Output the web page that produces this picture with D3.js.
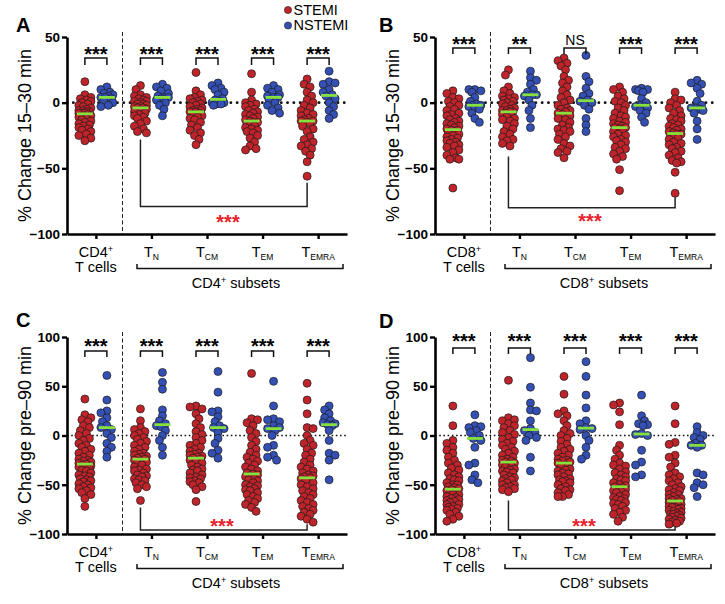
<!DOCTYPE html>
<html><head><meta charset="utf-8">
<script src="https://cdn.jsdelivr.net/npm/d3@7"></script>
<style>
body{margin:0;background:#fff}
svg{display:block}
text{font-family:"Liberation Sans",Arial,Helvetica,sans-serif}
</style>
</head><body>
<svg id="chart" width="725" height="604"></svg>
<script>
// ---------- DATA ----------
const categories = ["all", "TN", "TCM", "TEM", "TEMRA"];
const seriesNames = ["STEMI", "NSTEMI"];
const ticksAB = [50, 0, -50, -100];
const ticksCD = [100, 50, 0, -50, -100];
const yTitleAB = "% Change 15–30 min";
const yTitleCD = "% Change pre–90 min";
const starsA = ["***", "***", "***", "***", "***"];
const starsB = ["***", "**", "NS", "***", "***"];
const starsC = ["***", "***", "***", "***", "***"];
const starsD = ["***", "***", "***", "***", "***"];

// Panel A: CD4, 15–30 min
const A_STEMI = [
  [16,6,4,3,2,1,0,-1,-2,-3,-4,-5,-6,-6,-7,-7,-8,-8,-8,-9,-10,-10,-11,-12,-13,-14,-15,-16,-17,-18,-19,-20,-21,-22,-24,-25,-27,-29],
  [13,10,6,5,4,3,2,1,1,0,-1,-1,-2,-3,-3,-4,-4,-5,-6,-7,-8,-9,-10,-11,-12,-14,-16,-18,-20,-22,-23],
  [23,9,6,4,3,2,1,0,-1,-2,-3,-4,-5,-6,-6,-7,-7,-8,-9,-10,-11,-12,-13,-15,-17,-19,-21,-23,-25,-28,-32],
  [22,8,2,0,-1,-2,-3,-5,-6,-7,-8,-9,-10,-11,-12,-13,-14,-15,-15,-16,-17,-18,-19,-20,-21,-22,-23,-25,-27,-30,-33,-35,-36],
  [18,14,12,8,5,2,0,-2,-4,-6,-8,-9,-10,-12,-13,-14,-14,-15,-16,-18,-20,-22,-26,-28,-30,-32,-33,-35,-37,-40,-45,-56]
];
const A_NSTEMI = [
  [12,10,8,7,6,5,4,4,3,2,1,0,-2,-3],
  [14,12,11,9,7,5,4,4,3,2,0,-2,-5,-10],
  [15,13,11,10,8,6,3,2,1,0,0,-1,-1,-2],
  [13,11,10,8,6,5,4,4,2,0,-2,-4,-6,-8],
  [24,16,15,14,10,8,6,5,3,0,-3,-6,-9,-12]
];
// Panel B: CD8, 15–30 min
const B_STEMI = [
  [9,7,4,3,1,0,-2,-3,-5,-6,-8,-9,-10,-12,-13,-14,-15,-16,-17,-18,-19,-20,-21,-21,-22,-23,-24,-25,-26,-27,-28,-29,-30,-31,-32,-33,-34,-36,-38,-40,-42,-43,-43,-65],
  [25,21,12,9,7,5,4,3,2,1,0,-1,-2,-3,-4,-5,-6,-6,-7,-7,-8,-9,-10,-11,-12,-13,-14,-16,-18,-20,-22,-24,-26,-28,-29,-31,-33],
  [34,32,30,28,25,20,17,15,12,9,6,4,2,0,-2,-4,-5,-6,-7,-8,-9,-10,-12,-13,-15,-17,-19,-20,-21,-22,-24,-26,-28,-31,-33,-35,-37,-38,-42],
  [12,10,8,5,3,1,0,-2,-4,-6,-8,-10,-11,-12,-14,-15,-16,-17,-18,-19,-19,-20,-21,-22,-24,-25,-26,-28,-29,-30,-32,-34,-35,-37,-39,-41,-43,-51,-67],
  [8,3,2,0,-2,-4,-6,-8,-10,-12,-13,-14,-16,-17,-18,-19,-20,-21,-22,-23,-24,-24,-25,-26,-27,-28,-30,-31,-32,-34,-35,-37,-38,-40,-42,-44,-45,-46,-53,-69]
];
const B_NSTEMI = [
  [10,10,9,8,4,1,-1,-2,-2,-3,-4,-5,-8,-12,-15],
  [24,19,17,14,10,8,6,6,5,2,-2,-6,-12,-19],
  [36,20,16,11,7,5,2,1,0,-2,-5,-12,-17,-22],
  [11,10,10,9,8,3,0,-2,-3,-3,-4,-6,-8,-11,-15],
  [17,15,14,11,7,1,-2,-4,-4,-5,-6,-8,-14,-20,-28]
];
// Panel C: CD4, pre–90 min
const C_STEMI = [
  [37,21,18,16,14,10,8,5,2,0,-3,-5,-8,-10,-12,-14,-16,-18,-20,-22,-24,-25,-26,-27,-28,-29,-30,-31,-32,-33,-34,-35,-36,-38,-40,-41,-42,-44,-45,-46,-47,-49,-50,-52,-53,-54,-56,-58,-60,-64,-72],
  [27,15,8,6,4,2,0,-2,-4,-6,-8,-10,-12,-14,-16,-18,-19,-20,-21,-22,-23,-24,-25,-26,-27,-28,-30,-32,-34,-35,-36,-38,-40,-41,-42,-44,-45,-46,-48,-50,-52,-54,-66],
  [30,29,27,22,17,12,8,4,1,-2,-5,-8,-10,-12,-14,-16,-18,-19,-20,-21,-22,-23,-24,-25,-26,-28,-30,-32,-34,-35,-36,-38,-40,-42,-43,-44,-46,-47,-48,-50,-52,-55,-67],
  [63,17,16,13,10,5,2,-2,-6,-10,-14,-17,-20,-22,-24,-26,-28,-30,-32,-34,-36,-38,-39,-40,-41,-42,-44,-45,-46,-48,-50,-51,-52,-54,-55,-56,-58,-60,-62,-64,-66,-68,-70,-73,-77],
  [53,36,22,8,7,0,-5,-8,-10,-14,-18,-20,-24,-27,-30,-32,-34,-36,-38,-40,-41,-42,-43,-44,-46,-48,-50,-52,-54,-56,-58,-60,-62,-64,-66,-68,-70,-72,-74,-76,-78,-80,-82,-85,-88]
];
const C_NSTEMI = [
  [61,36,25,23,18,14,10,8,6,2,-2,-8,-12,-16,-22],
  [64,54,47,26,20,15,12,10,9,5,0,-5,-12,-20],
  [65,44,25,24,19,14,10,8,7,3,-3,-8,-15,-18,-23],
  [55,30,17,16,14,10,8,7,5,0,-10,-12,-20,-22,-25],
  [30,26,22,18,15,13,12,11,10,5,-5,-18,-20,-25,-45]
];
// Panel D: CD8, pre–90 min
const D_STEMI = [
  [30,10,-5,-8,-12,-15,-18,-22,-25,-28,-30,-33,-35,-38,-40,-42,-44,-45,-46,-48,-50,-50,-52,-53,-54,-55,-56,-57,-58,-60,-60,-62,-63,-64,-65,-66,-67,-68,-70,-70,-72,-73,-74,-75,-76,-78,-80,-82,-85,-87],
  [56,18,16,15,12,10,8,5,3,1,-2,-4,-6,-8,-10,-12,-14,-16,-18,-20,-22,-24,-25,-26,-27,-28,-29,-30,-31,-32,-34,-35,-36,-37,-38,-40,-42,-43,-44,-45,-46,-48,-50,-50,-52,-53,-54,-55,-57],
  [60,42,25,22,20,15,10,5,2,0,-3,-6,-9,-12,-14,-16,-18,-20,-22,-24,-25,-26,-27,-28,-30,-32,-34,-35,-36,-38,-39,-40,-42,-44,-45,-46,-47,-48,-50,-52,-54,-55,-56,-58,-60,-62,-62],
  [33,31,24,11,-10,-15,-20,-24,-28,-30,-31,-34,-37,-38,-40,-42,-44,-45,-46,-48,-50,-51,-52,-53,-54,-55,-56,-57,-58,-60,-62,-63,-64,-65,-66,-68,-69,-70,-72,-74,-76,-78,-80,-83,-87],
  [30,12,-7,-9,-20,-22,-28,-32,-38,-40,-42,-44,-46,-48,-50,-52,-54,-55,-56,-58,-60,-60,-62,-64,-64,-65,-66,-67,-68,-69,-70,-70,-71,-72,-73,-73,-74,-75,-76,-77,-78,-79,-80,-80,-81,-82,-83,-84,-85,-86,-87,-88,-89,-90]
];
const D_NSTEMI = [
  [21,10,9,8,5,3,0,-3,-5,-12,-28,-30,-40,-45,-48],
  [79,49,33,26,25,15,7,5,3,0,-2,-5,-22,-36],
  [75,60,41,28,15,12,8,7,6,0,-5,-12,-20,-24],
  [41,20,15,12,11,10,2,1,0,-15,-27,-30,-40,-42],
  [9,3,0,-2,-4,-8,-10,-10,-12,-38,-40,-48,-50,-53,-62]
];

// ---------- LAYOUT / STYLE ----------
const COL = {STEMI: "#c0242b", NSTEMI: "#3450b4", median: "#86e03e", sig: "#e8212b"};
const panels = [
  {letter:"A", ox:0,   oy:0,   lx:16,  ly:32,  cd:"CD4", dom:[-100,50], ticks:ticksAB, title:yTitleAB,
   s:A_STEMI, n:A_NSTEMI, stars:starsA, starY:50, brY:58, brD:7,
   sig:{l:-28, b:-79, r:-61, t:-88, tx:228}, legend:true},
  {letter:"B", ox:368, oy:0,  lx:379, ly:32, cd:"CD8", dom:[-100,50], ticks:ticksAB, title:yTitleAB,
   s:B_STEMI, n:B_NSTEMI, stars:starsB, starY:40, brY:48, brD:6,
   sig:{l:-41, b:-80, r:-72, t:-87, tx:222}},
  {letter:"C", ox:0,   oy:300, lx:16,  ly:327, cd:"CD4", dom:[-100,100], ticks:ticksCD, title:yTitleCD,
   s:C_STEMI, n:C_NSTEMI, stars:starsC, starY:42, brY:51, brD:6,
   sig:{l:-73, b:-96, r:-90, t:-88, tx:222}},
  {letter:"D", ox:368, oy:300, lx:379, ly:328, cd:"CD8", dom:[-100,100], ticks:ticksCD, title:yTitleCD,
   s:D_STEMI, n:D_NSTEMI, stars:starsD, starY:37, brY:48, brD:6,
   sig:{l:-66, b:-96, r:-92.5, t:-88, tx:216}}
];

const svg = d3.select("#chart");
const AX = 67, XEND = 347, TOP = 37, BOT = 234, R = 4, OFF = 11;

function swarm(values, cx, y) {
  const pts = values.map(v => ({v, py: y(v)})).sort((a, b) => a.py - b.py);
  const placed = [];
  const cands = [0];
  for (let k = 1; k <= 4; k++) cands.push(k * 1.5, -k * 1.5);
  const minD = 5.6;
  pts.forEach((p, i) => {
    let best = null, bestScore = -1;
    for (let j = 0; j < cands.length; j++) {
      const c = (i % 2 ? -1 : 1) * cands[j];
      let md = Infinity;
      for (const q of placed) {
        const dy = q.py - p.py; if (Math.abs(dy) > 12) continue;
        const d = Math.hypot(q.dx - c, dy); if (d < md) md = d;
      }
      if (md >= minD) { best = c; break; }
      if (md > bestScore) { bestScore = md; best = c; }
    }
    p.dx = best; placed.push(p);
  });
  return pts.map(p => ({v: p.v, x: cx + p.dx, y: p.py}));
}

panels.forEach(P => {
  const g = svg.append("g").attr("transform", `translate(${P.ox},${P.oy})`);
  const y = d3.scaleLinear().domain(P.dom).range([BOT, TOP]);
  const x = d3.scalePoint().domain(categories).range([AX, XEND]).padding(0.52);

  // zero line
  const dotted = P.dom[1] === 50;
  g.append("line").attr("x1", AX).attr("x2", XEND).attr("y1", y(0)).attr("y2", y(0))
    .attr("stroke", "#111").attr("stroke-width", dotted ? 2.8 : 1.6)
    .attr("stroke-dasharray", dotted ? "0.1,6.2" : "1.6,2.6")
    .attr("stroke-linecap", dotted ? "round" : "butt");

  // dashed separator
  g.append("line").attr("x1", 122.5).attr("x2", 122.5).attr("y1", 32).attr("y2", BOT)
    .attr("stroke", "#222").attr("stroke-width", 1).attr("stroke-dasharray", "4,2.5");

  // dots
  categories.forEach((c, ci) => {
    [[P.s[ci], "STEMI", -OFF], [P.n[ci], "NSTEMI", OFF]].forEach(([vals, name, off]) => {
      const cx = x(c) + off;
      const pts = swarm(vals, cx, y);
      g.append("g").selectAll("circle").data(pts).join("circle")
        .attr("cx", d => d.x).attr("cy", d => d.y).attr("r", R)
        .attr("fill", COL[name]).attr("stroke", "#1b1b1b").attr("stroke-width", 0.7);
      const med = d3.median(vals);
      g.append("line").attr("x1", cx - 8).attr("x2", cx + 8)
        .attr("y1", y(med)).attr("y2", y(med))
        .attr("stroke", COL.median).attr("stroke-width", 2.8);
    });
    // top bracket + stars
    const x1 = x(c) - OFF, x2 = x(c) + OFF;
    g.append("path").attr("d", `M${x1},${P.brY + P.brD}V${P.brY}H${x2}V${P.brY + P.brD}`)
      .attr("fill", "none").attr("stroke", "#111").attr("stroke-width", 1.5);
    const lab = P.stars[ci];
    if (lab === "NS") {
      g.append("text").attr("x", x(c)).attr("y", P.starY + 5).attr("text-anchor", "middle")
        .attr("font-size", 14).text(lab);
    } else {
      g.append("text").attr("x", x(c)).attr("y", P.starY + 11).attr("text-anchor", "middle")
        .attr("font-size", 20).attr("font-weight", "bold").text(lab);
    }
  });

  // significance bracket TN vs TEMRA (STEMI)
  const sx1 = x("TN") - OFF, sx2 = x("TEMRA") - OFF;
  g.append("path").attr("d", `M${sx1},${y(P.sig.l)}V${y(P.sig.b)}H${sx2}V${y(P.sig.r)}`)
    .attr("fill", "none").attr("stroke", "#222").attr("stroke-width", 1.5);
  g.append("text").attr("x", P.sig.tx).attr("y", y(P.sig.t) + 11).attr("text-anchor", "middle")
    .attr("font-size", 20).attr("font-weight", "bold").attr("fill", COL.sig).text("***");

  // axes
  const yAxis = g.append("g").attr("transform", `translate(${AX},0)`)
    .call(d3.axisLeft(y).tickValues(P.ticks).tickSize(5).tickSizeOuter(0).tickPadding(2));
  const xAxis = g.append("g").attr("transform", `translate(0,${BOT})`)
    .call(d3.axisBottom(x).tickSize(5).tickSizeOuter(0).tickFormat(""));
  [yAxis, xAxis].forEach(a => {
    a.select(".domain").attr("stroke", "#000").attr("stroke-width", 2.6);
    a.selectAll(".tick line").attr("stroke", "#000").attr("stroke-width", 2.4);
  });
  yAxis.selectAll(".tick text").attr("font-size", 13.5).attr("font-weight", "bold")
    .attr("fill", "#000").attr("font-family", "Liberation Sans, Arial, sans-serif");

  // category labels
  const lab0 = g.append("text").attr("x", x("all")).attr("y", 257).attr("text-anchor", "middle").attr("font-size", 14.5);
  lab0.append("tspan").text(P.cd);
  lab0.append("tspan").attr("font-size", 9).attr("dy", -5).text("+");
  g.append("text").attr("x", x("all")).attr("y", 272).attr("text-anchor", "middle").attr("font-size", 14.5).text("T cells");
  const subs = {TN: "N", TCM: "CM", TEM: "EM", TEMRA: "EMRA"};
  categories.slice(1).forEach(c => {
    const t = g.append("text").attr("x", x(c)).attr("y", 257).attr("text-anchor", "middle").attr("font-size", 14.5);
    t.append("tspan").text("T");
    t.append("tspan").attr("font-size", 8.5).attr("dy", 3).text(subs[c]);
  });
  // subsets bracket
  g.append("path").attr("d", `M137,264V268.5H343V264`).attr("fill", "none")
    .attr("stroke", "#111").attr("stroke-width", 1.5);
  const st = g.append("text").attr("x", 236).attr("y", 288).attr("text-anchor", "middle").attr("font-size", 14.5);
  st.append("tspan").text(P.cd);
  st.append("tspan").attr("font-size", 9).attr("dy", -5).text("+");
  st.append("tspan").attr("dy", 5).text(" subsets");

  // y title
  g.append("text").attr("transform", `translate(31,${(TOP + BOT) / 2}) rotate(-90)`)
    .attr("text-anchor", "middle").attr("font-size", 18).text(P.title);

  // legend
  if (P.legend) {
    const lg = g.append("g");
    seriesNames.forEach((nm, i) => {
      lg.append("circle").attr("cx", 288).attr("cy", 10 + i * 15.5).attr("r", 3.6)
        .attr("fill", COL[nm]).attr("stroke", "#1b1b1b").attr("stroke-width", 0.6);
      lg.append("text").attr("x", 293.5).attr("y", 15 + i * 15).attr("font-size", 14.5).text(nm);
    });
  }
});

// panel letters
panels.forEach(P => {
  svg.append("text").attr("x", P.lx).attr("y", P.ly).attr("font-family", "DejaVu Sans, sans-serif")
    .attr("font-weight", "bold").attr("font-size", 20).text(P.letter);
});
</script>
</body></html>
